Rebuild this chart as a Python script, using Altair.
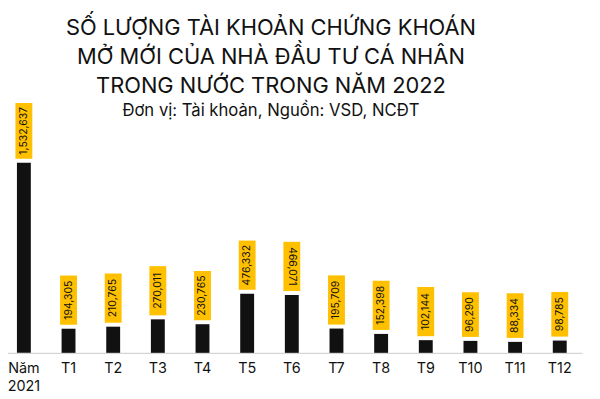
import altair as alt
import pandas as pd

CATEGORIES = ["Năm 2021", "T1", "T2", "T3", "T4", "T5", "T6", "T7", "T8", "T9", "T10", "T11", "T12"]
VALUES = [1532637, 194305, 210765, 270011, 230765, 476332, 466071, 195709, 152398, 102144, 96290, 88334, 98785]
TITLE_LINES = ["SỐ LƯỢNG TÀI KHOẢN CHỨNG KHOÁN", "MỞ MỚI CỦA NHÀ ĐẦU TƯ CÁ NHÂN", "TRONG NƯỚC TRONG NĂM 2022"]
SUBTITLE = "Đơn vị: Tài khoản, Nguồn: VSD, NCĐT"

FONT = "Inter"
YMAX = 2000000
W, H = 585, 250
K = YMAX / H  # data units per pixel

df = pd.DataFrame({"cat": CATEGORIES, "v": VALUES})

xenc = alt.X("cat:N", sort=CATEGORIES, title=None,
             scale=alt.Scale(paddingInner=0, paddingOuter=0),
             axis=alt.Axis(labelAngle=0, ticks=False, domainColor="#cccccc", domainWidth=1,
                           labelFontSize=14.5, labelColor="#111111", labelFont=FONT,
                           labelPadding=9, labelLineHeight=18, grid=False,
                           labelExpr="split(datum.label, ' ')"))
yscale = alt.Scale(domain=[0, YMAX])

base = alt.Chart(df).transform_calculate(
    label="format(datum.v, ',')"
).transform_calculate(
    n="length(datum.label) - floor(length(datum.label) / 4)",
    c="floor(length(datum.label) / 4)"
).transform_calculate(
    boxpx="4.6 * datum.n + 2 * datum.c + 20"
).transform_calculate(
    lo=f"datum.v + 4 * {K}",
    hi=f"datum.v + (4 + datum.boxpx) * {K}"
).transform_calculate(
    mid="(datum.lo + datum.hi) / 2"
)

bars = base.mark_bar(size=14, color="#111111").encode(
    x=xenc, y=alt.Y("v:Q", scale=yscale, axis=None)
)
boxes = base.mark_bar(size=17, color="#FFC000").encode(
    x=xenc, y=alt.Y("lo:Q", scale=yscale, axis=None), y2="hi:Q"
)
labels = base.mark_text(font=FONT, fontSize=10.5, color="#111111", align="center", baseline="middle").encode(
    x=xenc, y=alt.Y("mid:Q", scale=yscale, axis=None), text="label:N",
    angle=alt.condition(alt.datum.cat == "T6", alt.value(90), alt.value(270))
)

def title_text(txt, ypix, size):
    return alt.Chart(pd.DataFrame({"t": [txt]})).mark_text(
        font=FONT, fontSize=size, color="#111111", align="center", baseline="alphabetic"
    ).encode(text="t:N", x=alt.value(271.5), y=alt.value(ypix))

t1 = title_text(TITLE_LINES[0], -70.7, 22)
t2 = title_text(TITLE_LINES[1], -40.7, 22)
t3 = title_text(TITLE_LINES[2], -12.3, 22)
st = title_text(SUBTITLE, 11, 16.8)

chart = alt.layer(bars, boxes, labels, t1, t2, t3, st).properties(
    width=W, height=H,
    autosize=alt.AutoSizeParams(type="none"),
    padding={"left": -6.5, "top": 96, "right": 10, "bottom": 40},
    background="white"
).configure_view(stroke=None)

chart.save("out.html", embed_options={"renderer": "svg", "actions": False})
